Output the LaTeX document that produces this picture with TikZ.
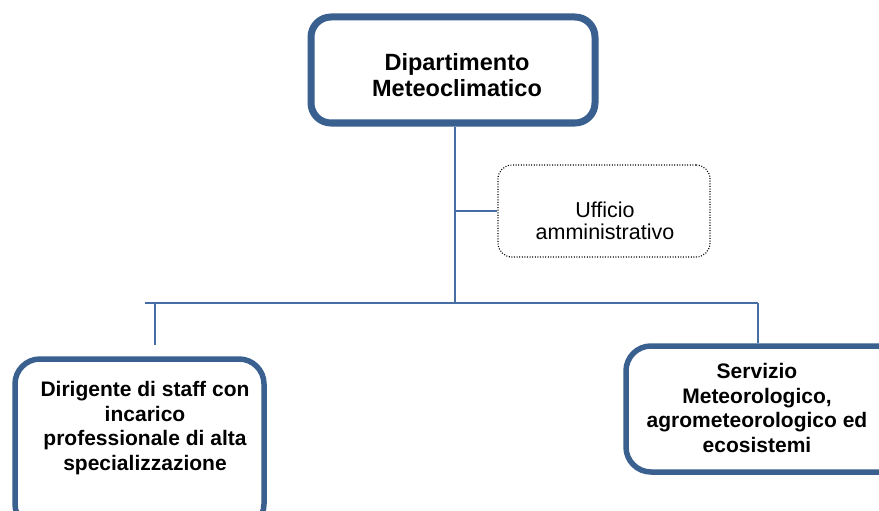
\documentclass[tikz,border=0pt]{standalone}
\usepackage{fontspec}
\setmainfont{Liberation Sans}
\definecolor{boxblue}{RGB}{58,96,144}
\definecolor{lineblue}{RGB}{70,110,165}
\tikzset{
  orgbox/.style={draw=boxblue, fill=white, rounded corners=20pt, inner sep=0pt},
  dotbox/.style={draw=black, dash pattern=on 1pt off 1.6pt, line width=1.1pt, rounded corners=14pt, inner sep=0pt},
  conn/.style={draw=lineblue, line width=1.3pt},
  boldtxt/.style={font=\bfseries\fontsize{21}{24.5}\selectfont, align=center, inner sep=0pt},
}
\begin{document}
\begin{tikzpicture}[x=1pt,y=-1pt]
\clip (0,0) rectangle (879,511);
\fill[white] (0,0) rectangle (879,511);
% boxes
\node[orgbox, line width=7pt, minimum width=284pt, minimum height=106pt] (top) at (453,70) {};
\node[boldtxt, font=\bfseries\fontsize{23.5}{26}\selectfont] (toptext) at (457,75) {Dipartimento\\Meteoclimatico};
\node[dotbox, minimum width=212pt, minimum height=92pt] (uff) at (604,211) {};
\node[align=center, inner sep=0pt, font=\fontsize{21.5}{22}\selectfont] (ufftext) at (605,221) {Ufficio\\amministrativo};
\node[orgbox, line width=5.5pt, rounded corners=25pt, minimum width=249pt, minimum height=170pt] (left) at (139.5,444) {};
\node[boldtxt] (lefttext) at (145,428) {Dirigente di staff con\\incarico\\professionale di alta\\specializzazione};
\node[orgbox, line width=5.5pt, rounded corners=25pt, minimum width=280pt, minimum height=126pt] (right) at (766,409) {};
\node[boldtxt] (righttext) at (757,408) {Servizio\\Meteorologico,\\agrometeorologico ed\\ecosistemi};
% connectors
\coordinate (j) at (455,303);
\coordinate (bl) at (145,303);
\coordinate (lb) at (155,345);
\coordinate (rb) at (758,303);
\draw[conn] (top.south -| j) -- (j);
\draw[conn] (uff.west) -- (uff.west -| j);
\draw[conn] (bl) -- (rb);
\draw[conn] (lb |- j) -- (lb);
\draw[conn] (rb) -- (rb |- right.north);
\end{tikzpicture}
\end{document}
